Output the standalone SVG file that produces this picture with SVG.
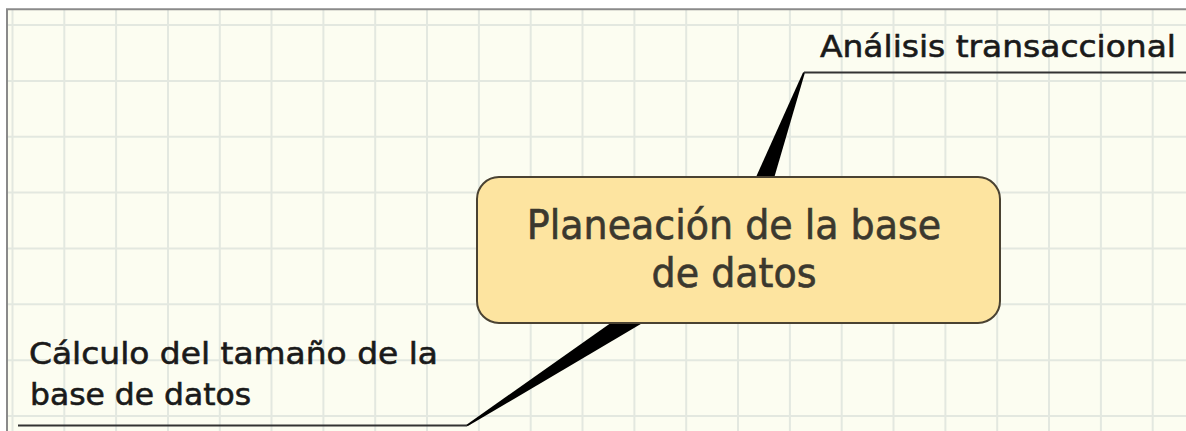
<svg xmlns="http://www.w3.org/2000/svg" width="1186" height="431" viewBox="0 0 1186 431">
  <defs>
    <style>
      .grid line { stroke: #e3e8e0; stroke-width: 2; }
      .wedge { fill: #000000; }
      .rule { stroke: #333333; stroke-width: 2; fill: none; }
      .topic { fill: #fde4a0; stroke: #4a4232; stroke-width: 2; }
      .ttext { font-family: "DejaVu Sans", "Liberation Sans", sans-serif; font-size: 38px; fill: #3b382e; stroke: #3b382e; stroke-width: 0.6; text-anchor: middle; }
      .ltext { font-family: "DejaVu Sans", "Liberation Sans", sans-serif; font-size: 31px; fill: #1a1a1a; stroke: #1a1a1a; stroke-width: 0.6; }
    </style>
  </defs>

  <!-- page -->
  <rect x="0" y="0" width="1186" height="431" fill="#ffffff"/>
  <rect x="7" y="9" width="1179" height="422" fill="#fcfdf1"/>

  <!-- grid -->
  <g class="grid">
    <line x1="12.5" y1="10" x2="12.5" y2="431"/>
    <line x1="64.3" y1="10" x2="64.3" y2="431"/>
    <line x1="116.1" y1="10" x2="116.1" y2="431"/>
    <line x1="168" y1="10" x2="168" y2="431"/>
    <line x1="219.8" y1="10" x2="219.8" y2="431"/>
    <line x1="271.5" y1="10" x2="271.5" y2="431"/>
    <line x1="323.4" y1="10" x2="323.4" y2="431"/>
    <line x1="375.2" y1="10" x2="375.2" y2="431"/>
    <line x1="427" y1="10" x2="427" y2="431"/>
    <line x1="478.9" y1="10" x2="478.9" y2="431"/>
    <line x1="530.7" y1="10" x2="530.7" y2="431"/>
    <line x1="582.5" y1="10" x2="582.5" y2="431"/>
    <line x1="634.4" y1="10" x2="634.4" y2="431"/>
    <line x1="686.2" y1="10" x2="686.2" y2="431"/>
    <line x1="738" y1="10" x2="738" y2="431"/>
    <line x1="789.9" y1="10" x2="789.9" y2="431"/>
    <line x1="841.7" y1="10" x2="841.7" y2="431"/>
    <line x1="893.5" y1="10" x2="893.5" y2="431"/>
    <line x1="945.4" y1="10" x2="945.4" y2="431"/>
    <line x1="997.2" y1="10" x2="997.2" y2="431"/>
    <line x1="1049" y1="10" x2="1049" y2="431"/>
    <line x1="1100.9" y1="10" x2="1100.9" y2="431"/>
    <line x1="1152.7" y1="10" x2="1152.7" y2="431"/>
    <line x1="8" y1="25" x2="1186" y2="25"/>
    <line x1="8" y1="80.9" x2="1186" y2="80.9"/>
    <line x1="8" y1="136.7" x2="1186" y2="136.7"/>
    <line x1="8" y1="192.6" x2="1186" y2="192.6"/>
    <line x1="8" y1="248.4" x2="1186" y2="248.4"/>
    <line x1="8" y1="304.3" x2="1186" y2="304.3"/>
    <line x1="8" y1="360.2" x2="1186" y2="360.2"/>
    <line x1="8" y1="416" x2="1186" y2="416"/>
  </g>

  <!-- frame -->
  <path d="M7 431 V9.3 H1186" fill="none" stroke="#8a8a8a" stroke-width="2"/>

  <!-- connectors -->
  <g id="connectors">
    <polygon class="wedge" points="725.4,245.2 751.6,254.8 804.9,72.8 803.1,72.2"/>
    <line class="rule" x1="804" y1="72.5" x2="1186" y2="72.5"/>
    <polygon class="wedge" points="730.9,238.2 746.1,261.8 467.5,426.3 466.5,424.7"/>
    <line class="rule" x1="18" y1="425.5" x2="467" y2="425.5"/>
  </g>

  <!-- central topic -->
  <g id="node-planeacion">
    <rect class="topic" x="477" y="177" width="523" height="146" rx="22" ry="22"/>
    <text class="ttext" transform="translate(734 239) scale(1 1.07)" x="0" y="0">Planeación de la base</text>
    <text class="ttext" transform="translate(734 287) scale(1 1.07)" x="0" y="0">de datos</text>
  </g>

  <!-- subtopics -->
  <g id="node-analisis">
    <text class="ltext" x="820" y="57" textLength="356" lengthAdjust="spacingAndGlyphs">Análisis transaccional</text>
  </g>
  <g id="node-calculo">
    <text class="ltext" x="29" y="364" textLength="409" lengthAdjust="spacingAndGlyphs">Cálculo del tamaño de la</text>
    <text class="ltext" x="30" y="405" textLength="221" lengthAdjust="spacingAndGlyphs">base de datos</text>
  </g>
</svg>
